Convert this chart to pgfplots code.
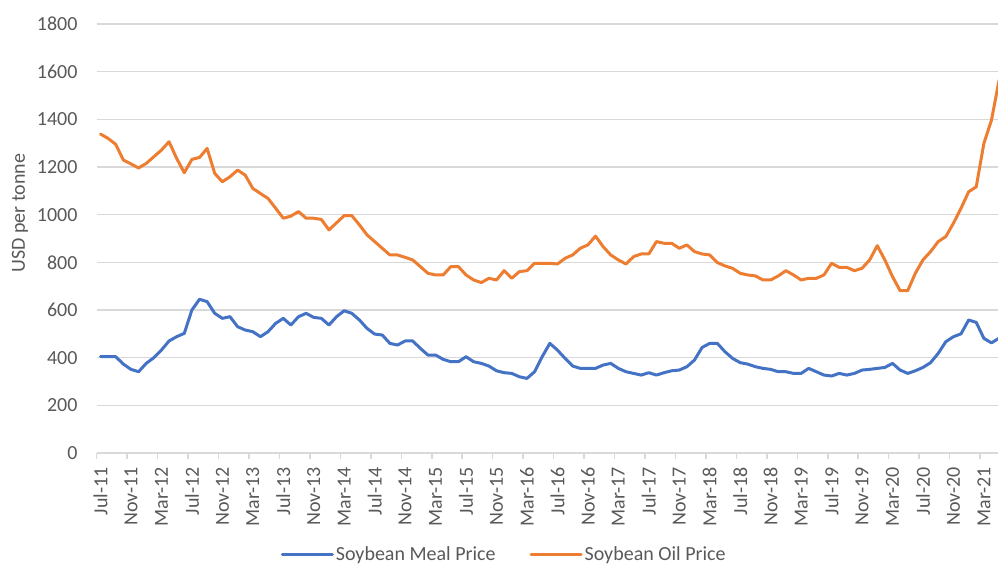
\documentclass[border=0pt]{standalone}
\usepackage{fontspec}
\setmainfont{Carlito}
\usepackage{pgfplots}
\pgfplotsset{compat=1.18}
\usepackage{pgfplotstable}
\definecolor{meal}{HTML}{4472C4}
\definecolor{oil}{HTML}{ED7D31}
\definecolor{gridgray}{HTML}{D9D9D9}
\definecolor{txtgray}{HTML}{595959}

\pgfplotstableread{
i meal oil
0 404 1338
1 404 1320
2 404 1295
3 373 1229
4 351 1213
5 341 1196
6 376 1215
7 400 1243
8 432 1271
9 470 1306
10 488 1236
11 502 1176
12 600 1232
13 645 1240
14 635 1278
15 586 1173
16 565 1138
17 572 1159
18 530 1187
19 516 1166
20 509 1110
21 488 1089
22 509 1068
23 544 1027
24 565 985
25 537 994
26 572 1013
27 586 985
28 569 985
29 565 980
30 537 936
31 572 966
32 597 996
33 586 996
34 558 957
35 523 915
36 499 887
37 495 859
38 460 831
39 453 831
40 470 821
41 470 810
42 439 782
43 411 754
44 411 747
45 393 747
46 383 782
47 383 782
48 404 747
49 383 726
50 376 715
51 365 733
52 345 726
53 337 765
54 334 733
55 320 761
56 313 765
57 341 796
58 404 796
59 460 796
60 432 793
61 397 817
62 365 831
63 355 859
64 355 873
65 355 910
66 369 866
67 376 831
68 355 810
69 341 793
70 334 824
71 327 835
72 337 835
73 327 887
74 337 880
75 345 880
76 348 859
77 362 873
78 390 845
79 443 835
80 460 831
81 460 799
82 425 785
83 397 775
84 379 754
85 373 747
86 362 743
87 355 726
88 351 726
89 341 743
90 341 765
91 334 747
92 334 726
93 355 733
94 341 733
95 327 747
96 323 796
97 334 779
98 327 779
99 334 765
100 348 775
101 351 810
102 355 870
103 359 810
104 376 740
105 348 681
106 334 681
107 345 754
108 359 810
109 379 845
110 418 887
111 467 908
112 488 964
113 500 1027
114 558 1096
115 548 1117
116 481 1299
117 462 1397
118 482 1565
}\datatable

\begin{document}
\begin{tikzpicture}[font=\fontsize{20}{24}\selectfont]
\useasboundingbox (0,0) rectangle (998pt,571pt);
\begin{axis}[
  at={(96.7pt,118pt)}, anchor=south west,
  scale only axis, width=902.4pt, height=429pt,
  xmin=-0.5, xmax=118, ymin=0, ymax=1800,
  ytick={0,200,...,1800},
  xtick={0,4,...,116},
  xticklabels={Jul-11,Nov-11,Mar-12,Jul-12,Nov-12,Mar-13,Jul-13,Nov-13,Mar-14,Jul-14,Nov-14,Mar-15,Jul-15,Nov-15,Mar-16,Jul-16,Nov-16,Mar-17,Jul-17,Nov-17,Mar-18,Jul-18,Nov-18,Mar-19,Jul-19,Nov-19,Mar-20,Jul-20,Nov-20,Mar-21},
  minor xtick={-0.5,3.5,...,117.5},
  xtick pos=bottom, ytick pos=left,
  tick align=outside,
  major tick length=0pt,
  minor tick length=6pt,
  minor tick style={draw=gridgray, line width=1.5pt},
  axis line style={draw=none},
  ymajorgrids,
  major grid style={draw=gridgray, line width=1.5pt},
  /pgf/number format/assume math mode=true,
  /pgf/number format/1000 sep={},
  xticklabel style={rotate=90, anchor=east, inner sep=0pt, text=txtgray},
  xticklabel shift=14pt,
  yticklabel style={anchor=east, inner sep=0pt, text=txtgray},
  yticklabel shift=19pt,
  ylabel={USD per tonne},
  ylabel style={at={(axis description cs:-0.085,0.559)}, anchor=center, text=txtgray},
  legend style={at={(axis description cs:0.4516,-0.236)}, anchor=center, draw=none, fill=none,
    inner sep=1pt, text=txtgray, /tikz/every even column/.append style={column sep=32pt}},
  legend columns=2,
  legend cell align=left,
  legend image code/.code={\draw[#1, line width=3pt] (0pt,0pt) -- (50pt,0pt);},
]
\addplot[meal, line width=3pt, line join=round, line cap=round] table[x=i, y=meal]{\datatable};
\addlegendentry{Soybean Meal Price}
\addplot[oil, line width=3pt, line join=round, line cap=round] table[x=i, y=oil]{\datatable};
\addlegendentry{Soybean Oil Price}
\end{axis}
\end{tikzpicture}
\end{document}
